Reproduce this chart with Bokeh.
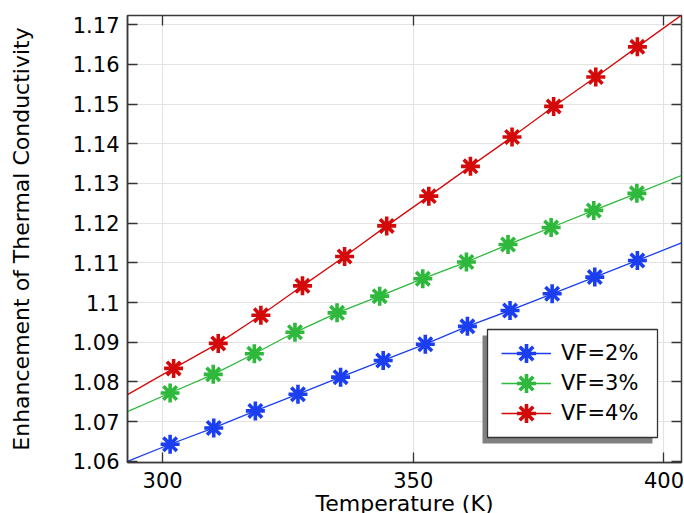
from bokeh.plotting import figure
from bokeh.models import (Range1d, LinearAxis, FixedTicker, NumeralTickFormatter,
                          Legend, LegendItem, BoxAnnotation)
from bokeh.embed import file_html
from bokeh.resources import INLINE

# ---------------- data ----------------
x_ticks = [300, 350, 400]
y_ticks = [1.06, 1.07, 1.08, 1.09, 1.10, 1.11, 1.12, 1.13, 1.14, 1.15, 1.16, 1.17]

series_labels = ["VF=2%", "VF=3%", "VF=4%"]

# marker positions (temperature K)
t_vf2 = [301.5, 310.2, 318.5, 327.0, 335.5, 344.0, 352.4, 360.8, 369.3, 377.7, 386.2, 394.7]
t_vf3 = [301.5, 310.1, 318.3, 326.4, 334.8, 343.3, 351.9, 360.6, 368.9, 377.5, 386.0, 394.6]
t_vf4 = [302.2, 311.1, 319.6, 327.9, 336.3, 344.7, 353.1, 361.4, 369.7, 378.0, 386.4, 394.7]

# enhancement of thermal conductivity at the markers
k_vf2 = [1.0643, 1.0684, 1.0727, 1.0769, 1.0812, 1.0854, 1.0895, 1.0940, 1.0980, 1.1022, 1.1064, 1.1106]
k_vf3 = [1.0772, 1.0819, 1.0871, 1.0925, 1.0974, 1.1016, 1.1060, 1.1102, 1.1146, 1.1189, 1.1232, 1.1275]
k_vf4 = [1.0834, 1.0897, 1.0968, 1.1042, 1.1116, 1.1193, 1.1268, 1.1343, 1.1417, 1.1494, 1.1568, 1.1644]

# curve end points (the curves span the full temperature range)
t_ends = [293.0, 403.5]
k_vf2_ends = [1.0600, 1.1150]
k_vf3_ends = [1.0725, 1.1320]
k_vf4_ends = [1.0768, 1.1724]

colors = ["#1b3ff0", "#2eb83c", "#d40a0a"]
FONT = "DejaVu Sans"

# ---------------- figure ----------------
p = figure(width=684, height=523, output_backend="svg", toolbar_location=None,
           x_range=Range1d(293.0, 403.5), y_range=Range1d(1.0597, 1.1723),
           min_border_left=127, min_border_right=3, min_border_top=15,
           min_border_bottom=61)
p.background_fill_color = "white"
p.border_fill_color = "white"
p.outline_line_color = "#3a3a3a"
p.outline_line_width = 1.5

p.xaxis.ticker = FixedTicker(ticks=x_ticks)
p.yaxis.ticker = FixedTicker(ticks=y_ticks)
p.xgrid.ticker = FixedTicker(ticks=x_ticks)
p.ygrid.ticker = FixedTicker(ticks=y_ticks)
p.yaxis.formatter = NumeralTickFormatter(format="0.[00]")
p.xgrid.grid_line_color = "#e3e3e3"
p.ygrid.grid_line_color = "#e3e3e3"
p.xgrid.grid_line_width = 1.2
p.ygrid.grid_line_width = 1.2

for ax in list(p.xaxis) + list(p.yaxis):
    ax.major_tick_in = 10
    ax.major_tick_out = 0
    ax.minor_tick_in = 0
    ax.minor_tick_out = 0
    ax.major_tick_line_color = "#333333"
    ax.major_tick_line_width = 1.3
    ax.axis_line_color = "#3a3a3a"
    ax.axis_line_width = 1.5
    ax.major_label_text_font = FONT
    ax.major_label_text_font_size = "21px"
    ax.major_label_text_color = "black"
    ax.axis_label_text_font = FONT
    ax.axis_label_text_font_size = "22px"
    ax.axis_label_text_font_style = "normal"
    ax.axis_label_text_color = "black"

p.xaxis.major_label_standoff = 9
p.xaxis.axis_label = "Temperature (K)"
p.xaxis.axis_label_standoff = 0
p.yaxis.major_label_standoff = 8
p.yaxis.axis_label = "Enhancement of Thermal Conductivity"
p.yaxis.axis_label_standoff = 36

# ticks on top and right sides (no labels)
def tick_only_axis(ticks):
    return LinearAxis(ticker=FixedTicker(ticks=ticks), major_label_text_font_size="0px",
                      major_label_text_color=None, major_label_standoff=0,
                      major_tick_in=10, major_tick_out=0,
                      minor_tick_in=0, minor_tick_out=0, axis_line_color=None,
                      major_tick_line_color="#333333", major_tick_line_width=1.3)

p.add_layout(tick_only_axis(x_ticks), "above")
p.add_layout(tick_only_axis(y_ticks), "right")

# ---------------- series ----------------
items = []
for lab, t, k, ends, c in zip(series_labels, [t_vf2, t_vf3, t_vf4], [k_vf2, k_vf3, k_vf4],
                              [k_vf2_ends, k_vf3_ends, k_vf4_ends], colors):
    lr = p.line(x=[t_ends[0]] + t + [t_ends[1]], y=[ends[0]] + k + [ends[1]],
                line_color=c, line_width=1.3)
    mr = p.scatter(x=t, y=k, marker="asterisk", size=19, line_color=c, line_width=3.6)
    items.append(LegendItem(label=lab, renderers=[lr, mr]))

# legend shadow and box
shadow = BoxAnnotation(left=355, right=525, bottom=19, top=127,
                       left_units="screen", right_units="screen",
                       bottom_units="screen", top_units="screen",
                       fill_color="#808080", fill_alpha=1.0, line_color=None)
box = BoxAnnotation(left=360, right=530, bottom=25, top=133,
                    left_units="screen", right_units="screen",
                    bottom_units="screen", top_units="screen",
                    fill_color="white", fill_alpha=1.0, line_color="#333333",
                    line_alpha=1.0, line_width=1.3)
p.add_layout(shadow)
p.add_layout(box)

# one single-entry legend per row, so that the legend markers keep their full size
row_bottoms = [85, 55, 25]
for item, yb in zip(items, row_bottoms):
    lg = Legend(items=[item], location=(374, yb), glyph_width=50, glyph_height=48,
                label_height=48, spacing=0, padding=0, margin=0, label_standoff=10,
                label_text_font=FONT, label_text_font_size="21px",
                label_text_color="black", border_line_color=None,
                background_fill_alpha=0.0)
    p.add_layout(lg, "center")

open("out.html", "w").write(file_html(p, INLINE))
